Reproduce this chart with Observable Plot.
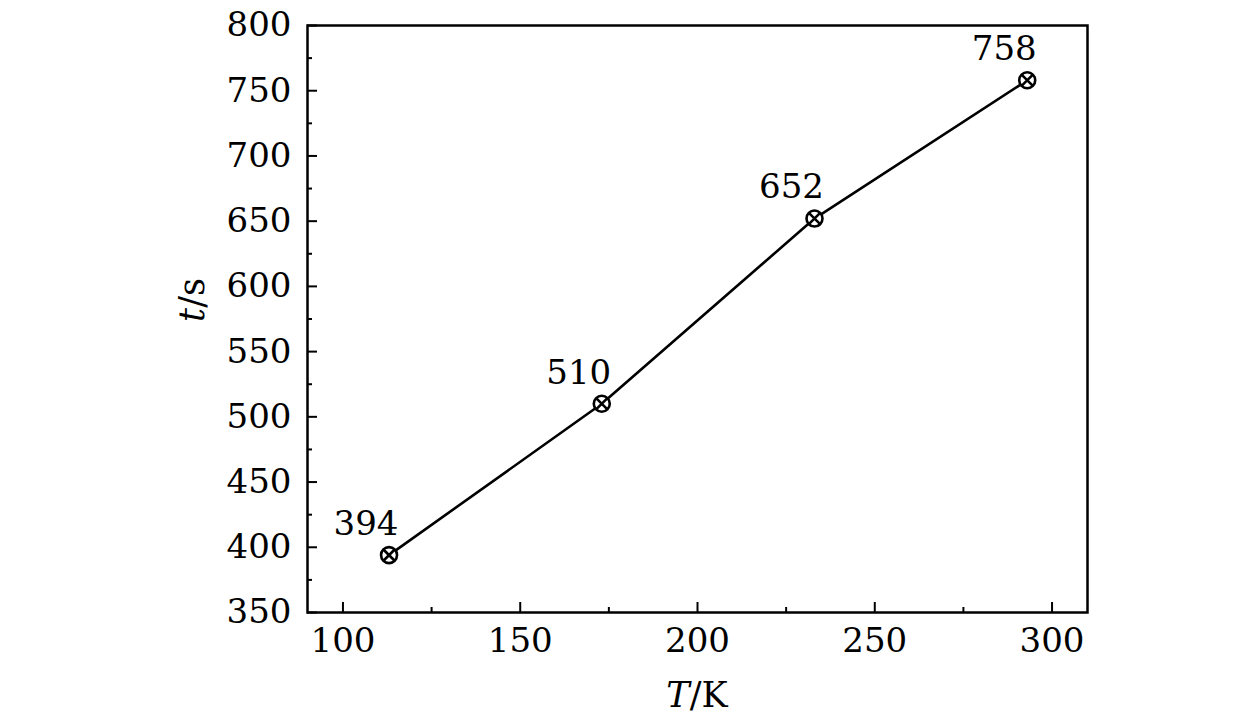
<!DOCTYPE html>
<html><head><meta charset="utf-8">
<script src="https://cdn.jsdelivr.net/npm/d3@7"></script>
<script src="https://cdn.jsdelivr.net/npm/@observablehq/plot@0.6"></script>
<style>body{margin:0;background:#fff}</style>
</head><body><div id="chart"></div>
<script>
const temps = [113, 173, 233, 293];
const times = [394, 510, 652, 758];
const xMajor = [100, 150, 200, 250, 300];
const xMinor = [125, 175, 225, 275];
const yMajor = [350, 400, 450, 500, 550, 600, 650, 700, 750, 800];
const yMinor = [375, 425, 475, 525, 575, 625, 675, 725, 775];

const data = temps.map((T, i) => ({T, t: times[i]}));
const font = "DejaVu Serif";
const fs = 34;

const plot = Plot.plot({
  width: 1260, height: 724,
  marginLeft: 307, marginRight: 173, marginTop: 25, marginBottom: 112,
  style: {fontFamily: font, fontSize: fs + "px", color: "#000", background: "#fff"},
  x: {domain: [90, 310], label: null},
  y: {domain: [350, 800], label: null},
  marks: [
    Plot.axisX({ticks: xMajor, tickSize: 0, tickPadding: 15, tickFormat: d => d, fontSize: fs}),
    Plot.axisY({ticks: yMajor, tickSize: 0, tickPadding: 16, tickFormat: d => d, fontSize: fs}),
    Plot.axisX({ticks: xMajor, tickSize: -10, tickFormat: () => "", strokeWidth: 2}),
    Plot.axisX({ticks: xMinor, tickSize: -5, tickFormat: () => "", strokeWidth: 2}),
    Plot.axisY({ticks: yMajor, tickSize: -10, tickFormat: () => "", strokeWidth: 2}),
    Plot.axisY({ticks: yMinor, tickSize: -5, tickFormat: () => "", strokeWidth: 2}),
    Plot.frame({stroke: "#000", strokeWidth: 2.5}),
    Plot.line(data, {x: "T", y: "t", stroke: "#000", strokeWidth: 2.6}),
    Plot.dot(data, {x: "T", y: "t", r: 8, stroke: "#000", strokeWidth: 2.6, fill: "#fff"}),
    Plot.dot(data, {x: "T", y: "t", r: 5.2, symbol: "times", stroke: "#000", strokeWidth: 2.6}),
    Plot.text(data, {x: "T", y: "t", text: d => String(d.t), dx: -23, dy: -31, fontSize: fs, fill: "#000"})
  ]
});
const svg = d3.select(plot);
const xl = svg.append("text").attr("x", 697).attr("y", 707).attr("text-anchor", "middle")
  .attr("font-family", font).attr("font-size", 35).attr("fill", "#000");
xl.append("tspan").attr("font-style", "italic").text("T");
xl.append("tspan").text("/K");
const yl = svg.append("text").attr("transform", "translate(204,300) rotate(-90)").attr("text-anchor", "middle")
  .attr("font-family", font).attr("font-size", 35).attr("fill", "#000");
yl.append("tspan").attr("font-style", "italic").text("t");
yl.append("tspan").text("/s");
document.getElementById("chart").appendChild(plot);
</script></body></html>
